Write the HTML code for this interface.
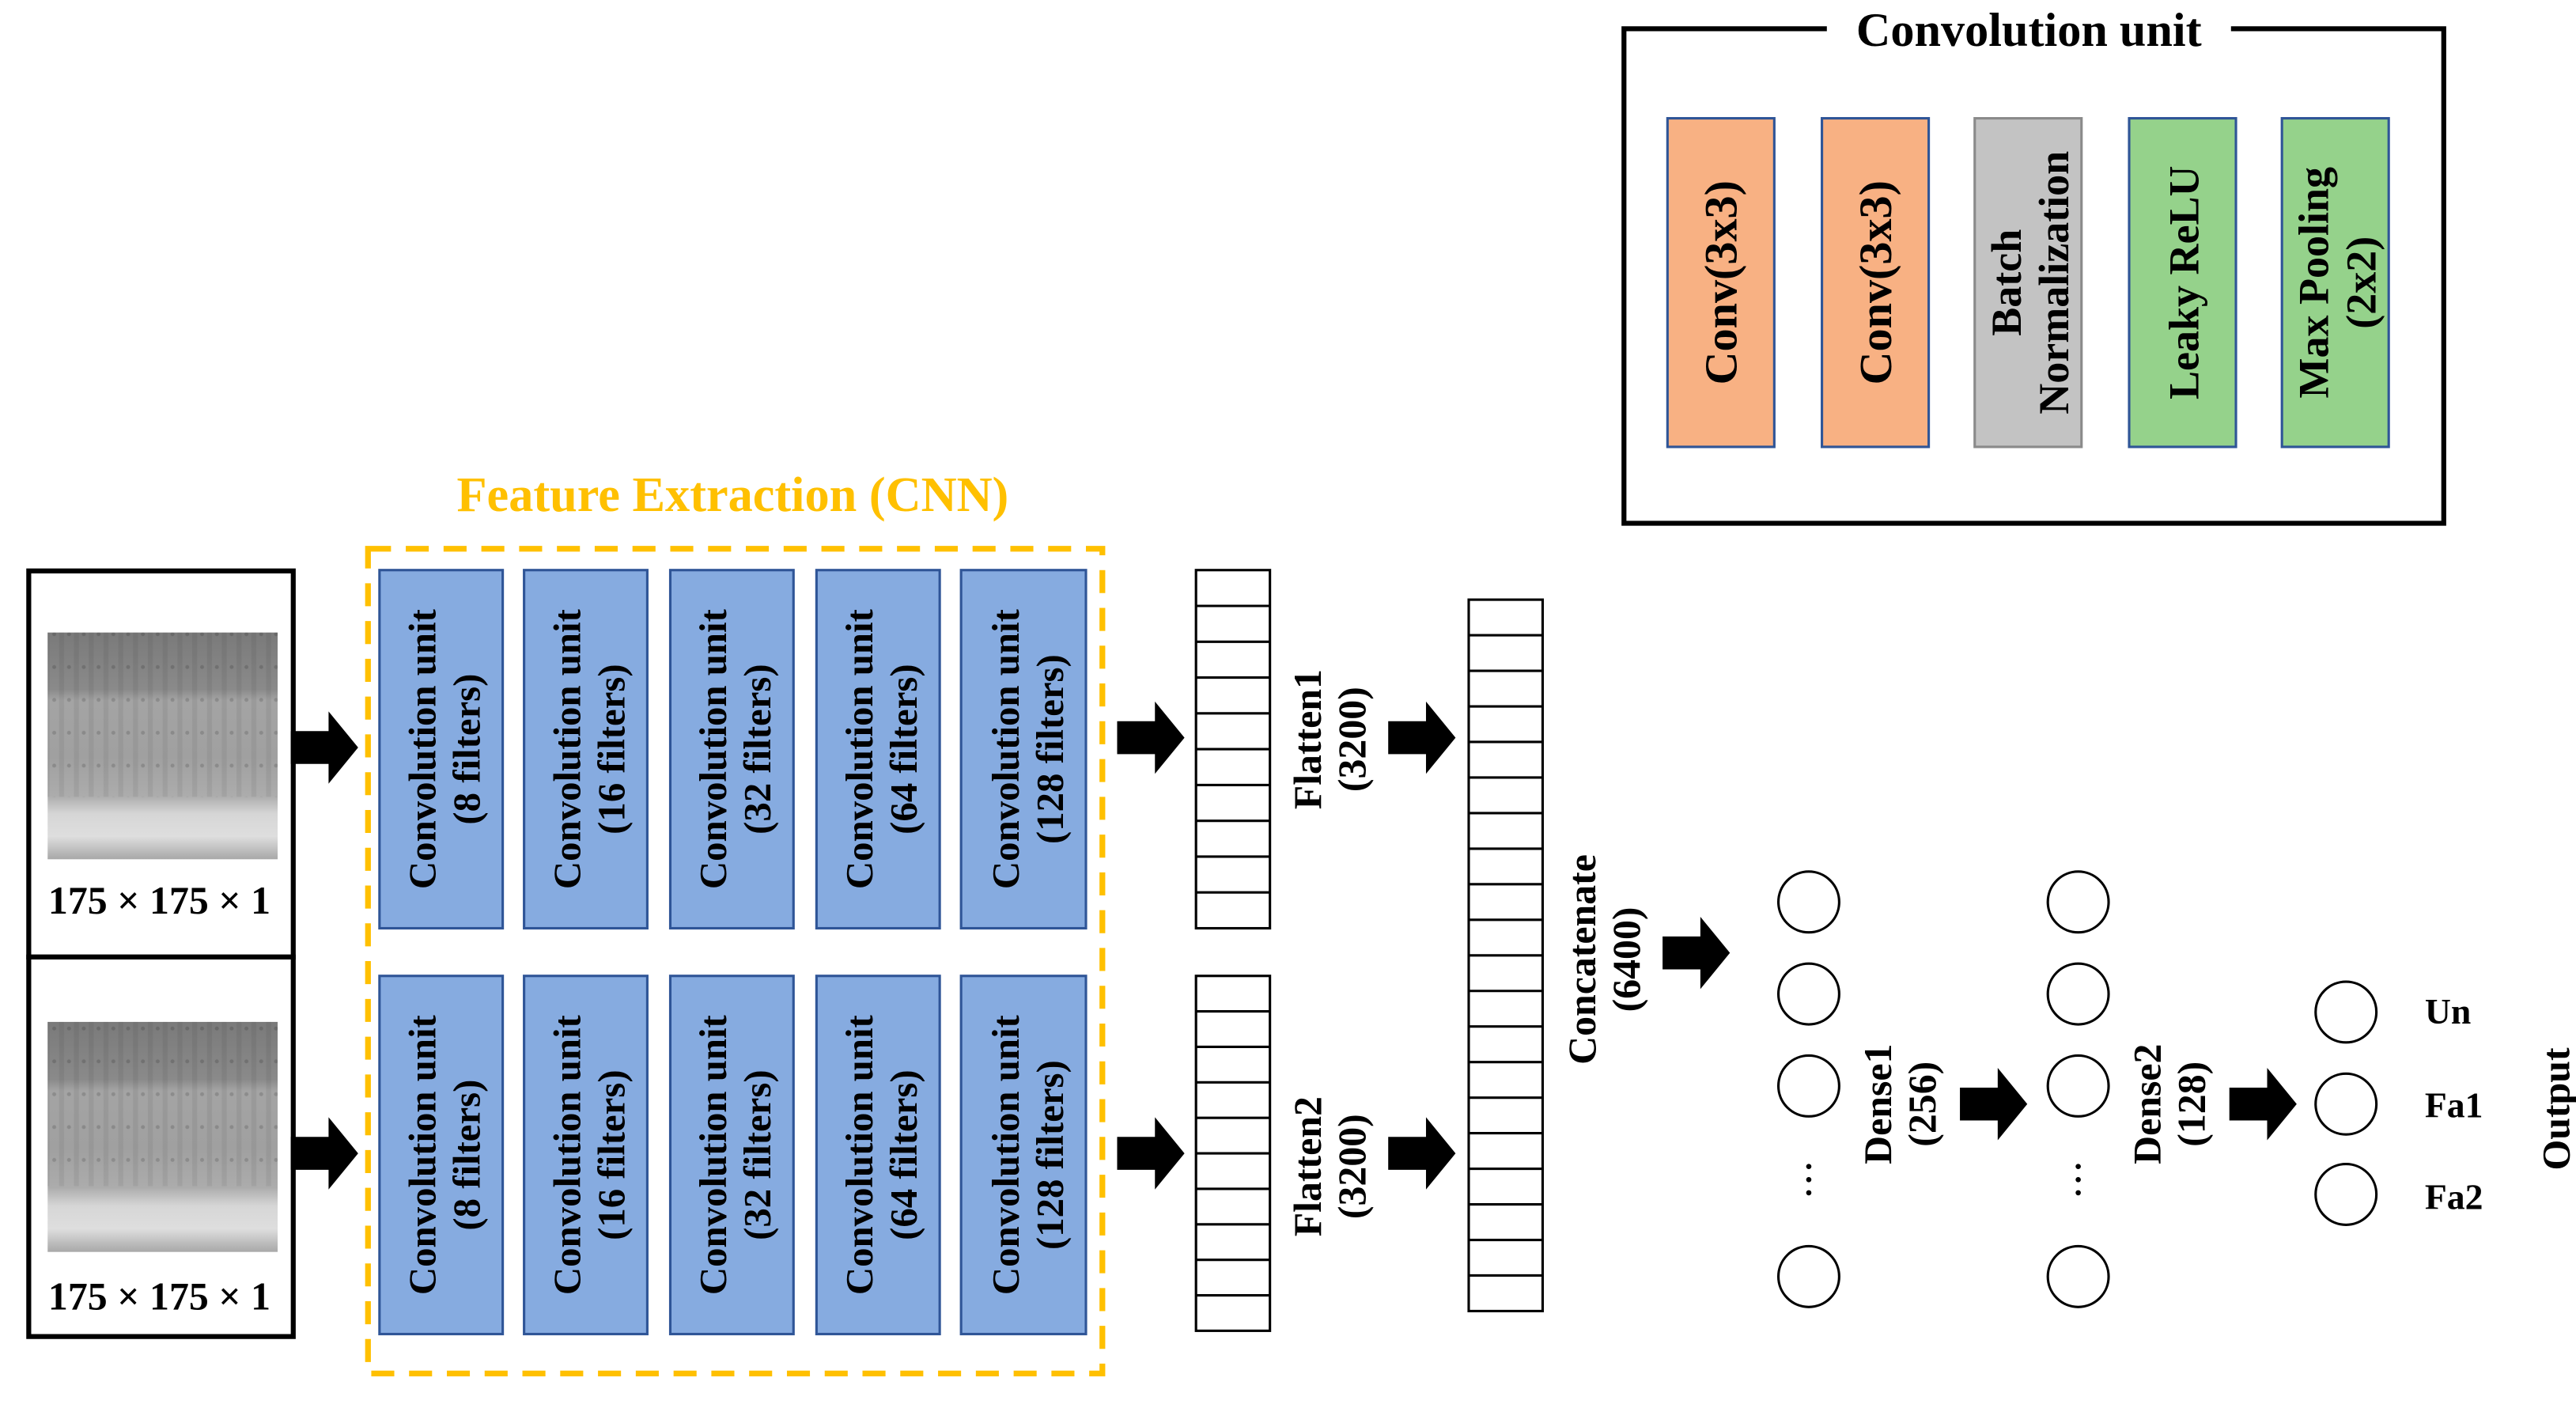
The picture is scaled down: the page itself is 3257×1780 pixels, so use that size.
<!DOCTYPE html>
<html><head><meta charset="utf-8"><style>
html,body{margin:0;padding:0;background:#fff;}
svg{display:block;}
text{font-family:"Liberation Serif",serif;font-weight:bold;}
</style></head><body>
<svg width="3257" height="1780" viewBox="0 0 1568 857" preserveAspectRatio="none" xmlns="http://www.w3.org/2000/svg">
<defs>
<linearGradient id="sp" x1="0" y1="0" x2="0" y2="1">
<stop offset="0" stop-color="#7a7a7a"/>
<stop offset="0.25" stop-color="#8a8a8a"/>
<stop offset="0.3" stop-color="#a4a4a4"/>
<stop offset="0.55" stop-color="#a0a0a0"/>
<stop offset="0.72" stop-color="#acacac"/>
<stop offset="0.8" stop-color="#d6d6d6"/>
<stop offset="0.9" stop-color="#dedede"/>
<stop offset="0.97" stop-color="#b8b8b8"/>
<stop offset="1" stop-color="#a8a8a8"/>
</linearGradient>
<pattern id="vs" width="9" height="20" patternUnits="userSpaceOnUse">
<rect x="0" y="0" width="3" height="20" fill="#000" opacity="0.06"/>
<circle cx="6" cy="6" r="1.2" fill="#000" opacity="0.15"/>
</pattern>
<g id="arr"><path d="M0,-10 L23,-10 L23,-22 L41,0 L23,22 L23,10 L0,10 Z" fill="#000"/></g>
</defs>

<rect x="17.5" y="347.5" width="161" height="235" fill="#fff" stroke="#000" stroke-width="3"/>
<rect x="17.5" y="582.5" width="161" height="231" fill="#fff" stroke="#000" stroke-width="3"/>
<rect x="29" y="385" width="140" height="138" fill="url(#sp)"/>
<rect x="29" y="385" width="140" height="100" fill="url(#vs)"/>
<rect x="29" y="622" width="140" height="140" fill="url(#sp)"/>
<rect x="29" y="622" width="140" height="100" fill="url(#vs)"/>
<text x="97" y="556" font-size="24" text-anchor="middle">175 × 175 × 1</text>
<text x="97" y="797" font-size="24" text-anchor="middle">175 × 175 × 1</text>

<use href="#arr" x="177" y="455"/>
<use href="#arr" x="177" y="702"/>

<text x="446" y="311" font-size="30" fill="#FFC000" text-anchor="middle">Feature Extraction (CNN)</text>
<rect x="224" y="334" width="447" height="502" fill="none" stroke="#FFC000" stroke-width="3.5" stroke-dasharray="14,9"/>

<g fill="#86ABE0" stroke="#2F5597" stroke-width="1.5">
<rect x="231" y="347" width="75" height="218"/>
<rect x="319" y="347" width="75" height="218"/>
<rect x="408" y="347" width="75" height="218"/>
<rect x="497" y="347" width="75" height="218"/>
<rect x="585" y="347" width="76" height="218"/>
<rect x="231" y="594" width="75" height="218"/>
<rect x="319" y="594" width="75" height="218"/>
<rect x="408" y="594" width="75" height="218"/>
<rect x="497" y="594" width="75" height="218"/>
<rect x="585" y="594" width="76" height="218"/>
</g>
<g font-size="23.5" text-anchor="middle">
<g transform="translate(268,456) rotate(-90)"><text y="-3">Convolution unit</text><text y="24">(8 filters)</text></g>
<g transform="translate(356,456) rotate(-90)"><text y="-3">Convolution unit</text><text y="24">(16 filters)</text></g>
<g transform="translate(445,456) rotate(-90)"><text y="-3">Convolution unit</text><text y="24">(32 filters)</text></g>
<g transform="translate(534,456) rotate(-90)"><text y="-3">Convolution unit</text><text y="24">(64 filters)</text></g>
<g transform="translate(623,456) rotate(-90)"><text y="-3">Convolution unit</text><text y="24">(128 filters)</text></g>
<g transform="translate(268,703) rotate(-90)"><text y="-3">Convolution unit</text><text y="24">(8 filters)</text></g>
<g transform="translate(356,703) rotate(-90)"><text y="-3">Convolution unit</text><text y="24">(16 filters)</text></g>
<g transform="translate(445,703) rotate(-90)"><text y="-3">Convolution unit</text><text y="24">(32 filters)</text></g>
<g transform="translate(534,703) rotate(-90)"><text y="-3">Convolution unit</text><text y="24">(64 filters)</text></g>
<g transform="translate(623,703) rotate(-90)"><text y="-3">Convolution unit</text><text y="24">(128 filters)</text></g>
</g>

<use href="#arr" x="680" y="449"/>
<use href="#arr" x="680" y="702"/>

<g fill="#fff" stroke="#000" stroke-width="1.5">
<rect x="728" y="347" width="45" height="218"/>
<rect x="728" y="594" width="45" height="216"/>
<rect x="894" y="365" width="45" height="433"/>
</g>
<g stroke="#000" stroke-width="1.5">
<path d="M728,368.8H773M728,390.6H773M728,412.4H773M728,434.2H773M728,456H773M728,477.8H773M728,499.6H773M728,521.4H773M728,543.2H773"/>
<path d="M728,615.6H773M728,637.2H773M728,658.8H773M728,680.4H773M728,702H773M728,723.6H773M728,745.2H773M728,766.8H773M728,788.4H773"/>
<path d="M894,386.65H939M894,408.3H939M894,429.95H939M894,451.6H939M894,473.25H939M894,494.9H939M894,516.55H939M894,538.2H939M894,559.85H939M894,581.5H939M894,603.15H939M894,624.8H939M894,646.45H939M894,668.1H939M894,689.75H939M894,711.4H939M894,733.05H939M894,754.7H939M894,776.35H939"/>
</g>
<g font-size="24" text-anchor="middle">
<g transform="translate(806,450) rotate(-90)"><text y="-2">Flatten1</text><text y="25">(3200)</text></g>
<g transform="translate(806,710) rotate(-90)"><text y="-2">Flatten2</text><text y="25">(3200)</text></g>
<g transform="translate(968,584) rotate(-90)"><text y="3">Concatenate</text><text y="30">(6400)</text></g>
<g transform="translate(1148,672) rotate(-90)"><text y="3">Dense1</text><text y="30">(256)</text></g>
<g transform="translate(1312,672) rotate(-90)"><text y="3">Dense2</text><text y="30">(128)</text></g>
<g transform="translate(1556,675) rotate(-90)"><text y="8">Output</text></g>
</g>

<use href="#arr" x="845" y="449"/>
<use href="#arr" x="845" y="702"/>
<use href="#arr" x="1012" y="580"/>
<use href="#arr" x="1193" y="672"/>
<use href="#arr" x="1357" y="672"/>

<g fill="#fff" stroke="#000" stroke-width="1.5">
<circle cx="1101" cy="549" r="18.5"/><circle cx="1101" cy="605" r="18.5"/><circle cx="1101" cy="661" r="18.5"/><circle cx="1101" cy="777" r="18.5"/>
<circle cx="1265" cy="549" r="18.5"/><circle cx="1265" cy="605" r="18.5"/><circle cx="1265" cy="661" r="18.5"/><circle cx="1265" cy="777" r="18.5"/>
<circle cx="1428" cy="616" r="18.5"/><circle cx="1428" cy="672" r="18.5"/><circle cx="1428" cy="727" r="18.5"/>
</g>
<g fill="#000">
<circle cx="1101" cy="710" r="1.6"/><circle cx="1101" cy="718" r="1.6"/><circle cx="1101" cy="726" r="1.6"/>
<circle cx="1265" cy="710" r="1.6"/><circle cx="1265" cy="718" r="1.6"/><circle cx="1265" cy="726" r="1.6"/>
</g>
<g font-size="22">
<text x="1476" y="623">Un</text>
<text x="1476" y="680">Fa1</text>
<text x="1476" y="736">Fa2</text>
</g>

<rect x="988.5" y="17.5" width="499" height="301" fill="none" stroke="#000" stroke-width="3"/>
<rect x="1112" y="2" width="246" height="32" fill="#fff"/>
<text x="1235" y="28" font-size="29" text-anchor="middle">Convolution unit</text>
<rect x="1015" y="72" width="65" height="200" fill="#F8B183" stroke="#2F5597" stroke-width="1.5"/>
<rect x="1109" y="72" width="65" height="200" fill="#F8B183" stroke="#2F5597" stroke-width="1.5"/>
<rect x="1202" y="72" width="65" height="200" fill="#C3C3C3" stroke="#8a8a8a" stroke-width="1.5"/>
<rect x="1296" y="72" width="65" height="200" fill="#95D28B" stroke="#2F5597" stroke-width="1.5"/>
<rect x="1389" y="72" width="65" height="200" fill="#95D28B" stroke="#2F5597" stroke-width="1.5"/>
<g font-size="28" text-anchor="middle">
<g transform="translate(1047,172) rotate(-90)"><text y="10">Conv(3x3)</text></g>
<g transform="translate(1141,172) rotate(-90)"><text y="10">Conv(3x3)</text></g>
<g transform="translate(1234,172) rotate(-90)"><text y="-4" font-size="26">Batch</text><text y="25" font-size="26">Normalization</text></g>
<g transform="translate(1328,172) rotate(-90)"><text y="10" font-size="26">Leaky ReLU</text></g>
<g transform="translate(1421,172) rotate(-90)"><text y="-4" font-size="26">Max Pooling</text><text y="25" font-size="26">(2x2)</text></g>
</g>
</svg>
</body></html>
